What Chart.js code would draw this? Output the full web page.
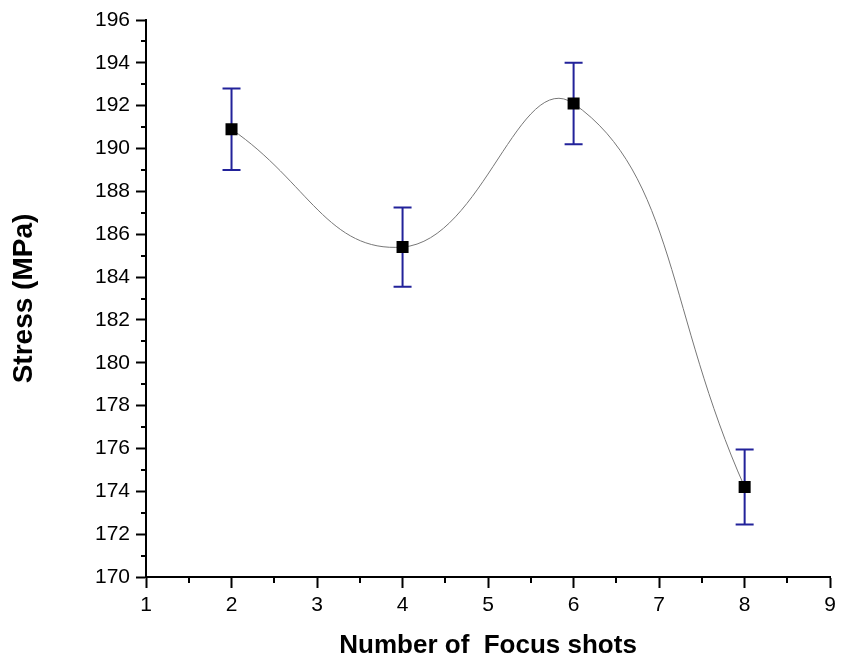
<!DOCTYPE html>
<html>
<head>
<meta charset="utf-8">
<script src="https://cdn.jsdelivr.net/npm/chart.js@4/dist/chart.umd.min.js"></script>
<style>
html,body{margin:0;padding:0;background:#fff;}
#wrap{width:841px;height:661px;}
</style>
</head>
<body>
<div id="wrap"><canvas id="c" width="841" height="661"></canvas></div>
<script>
// Data
const focusShots = [2, 4, 6, 8];
const stressMPa = [190.9, 185.4, 192.1, 174.2];
const stressError = [1.9, 1.85, 1.9, 1.75];
const yMinorTicks = [171,173,175,177,179,181,183,185,187,189,191,193,195];
const xMinorTicks = [1.5,2.5,3.5,4.5,5.5,6.5,7.5,8.5];

const errorBarPlugin = {
  id: 'errorBars',
  beforeDatasetsDraw(chart) {
    const ctx = chart.ctx, xs = chart.scales.x, ys = chart.scales.y;
    ctx.save();
    ctx.strokeStyle = '#22229a';
    ctx.lineWidth = 2;
    focusShots.forEach((xv, i) => {
      const px = xs.getPixelForValue(xv);
      const top = ys.getPixelForValue(stressMPa[i] + stressError[i]);
      const bot = ys.getPixelForValue(stressMPa[i] - stressError[i]);
      ctx.beginPath();
      ctx.moveTo(px, top); ctx.lineTo(px, bot);
      ctx.moveTo(px - 9, top); ctx.lineTo(px + 9, top);
      ctx.moveTo(px - 9, bot); ctx.lineTo(px + 9, bot);
      ctx.stroke();
    });
    ctx.restore();
  },
  afterDraw(chart) {
    const ctx = chart.ctx, xs = chart.scales.x, ys = chart.scales.y;
    const area = chart.chartArea;
    ctx.save();
    ctx.strokeStyle = '#000';
    ctx.lineWidth = 2;
    ctx.beginPath();
    yMinorTicks.forEach(v => {
      const py = Math.round(ys.getPixelForValue(v));
      ctx.moveTo(area.left, py); ctx.lineTo(area.left - 5, py);
    });
    xMinorTicks.forEach(v => {
      const px = Math.round(xs.getPixelForValue(v));
      ctx.moveTo(px, area.bottom); ctx.lineTo(px, area.bottom + 6);
    });
    ctx.stroke();
    ctx.restore();
  }
};

new Chart(document.getElementById('c'), {
  type: 'line',
  data: {
    datasets: [{
      data: focusShots.map((x, i) => ({x: x, y: stressMPa[i]})),
      borderColor: '#777777',
      borderWidth: 1,
      tension: 0.45,
      pointStyle: 'rect',
      pointRadius: 8.5,
      pointBackgroundColor: '#000',
      pointBorderWidth: 0,
      pointBorderColor: '#000',
      fill: false
    }]
  },
  options: {
    responsive: false,
    animation: false,
    events: [],
    layout: { padding: { top: 20, right: 7, left: 0, bottom: 0 } },
    plugins: { legend: { display: false }, tooltip: { enabled: false } },
    scales: {
      x: {
        type: 'linear',
        min: 1, max: 9,
        afterFit(s) { s.height = 84; },
        ticks: { stepSize: 1, color: '#000', padding: 5,
          font: { family: 'Liberation Sans, Arial, sans-serif', size: 21 } },
        grid: { drawOnChartArea: false, tickLength: 11, tickWidth: 2, tickColor: '#000' },
        border: { color: '#000', width: 2 },
        title: { display: true, text: 'Number of  Focus shots', color: '#000',
          font: { family: 'Liberation Sans, Arial, sans-serif', size: 26, weight: 'bold' },
          padding: { top: 0, bottom: 0 } }
      },
      y: {
        min: 170, max: 196,
        afterFit(s) { s.width = 146; },
        ticks: { stepSize: 2, color: '#000', padding: 6,
          font: { family: 'Liberation Sans, Arial, sans-serif', size: 21 } },
        grid: { drawOnChartArea: false, tickLength: 10, tickWidth: 2, tickColor: '#000' },
        border: { color: '#000', width: 2 },
        title: { display: true, text: 'Stress (MPa)', color: '#000',
          font: { family: 'Liberation Sans, Arial, sans-serif', size: 28, weight: 'bold' },
          padding: { top: 7, bottom: 0 } }
      }
    }
  },
  plugins: [errorBarPlugin]
});
</script>
</body>
</html>
